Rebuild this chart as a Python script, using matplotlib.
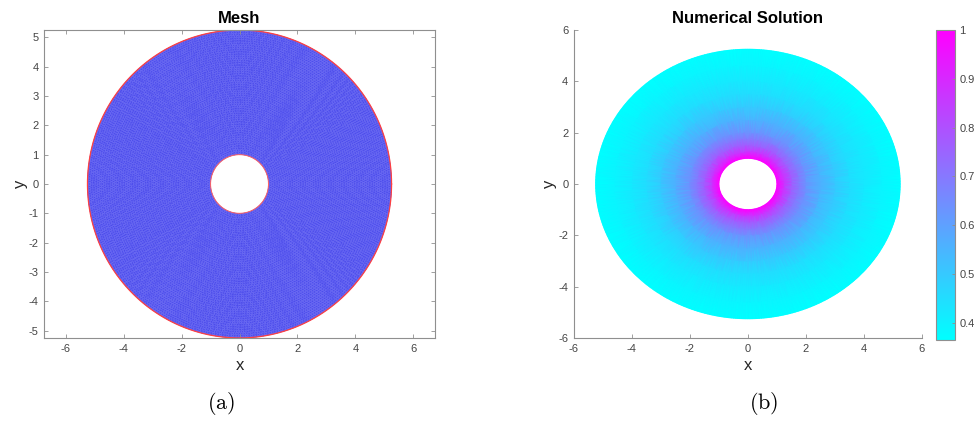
import matplotlib
matplotlib.use("Agg")
import matplotlib.pyplot as plt
import matplotlib.tri as mtri
from matplotlib.collections import PolyCollection
import numpy as np

plt.rcParams['font.family'] = ['Liberation Sans', 'DejaVu Sans']
plt.rcParams['mathtext.fontset'] = 'cm'
plt.rcParams['axes.unicode_minus'] = False

# geometry of the annulus
r_inner = 1.0
r_outer = 5.25

# radial profile of the numerical solution
sol_r = [1.0, 1.1, 1.25, 1.5, 1.75, 2.0, 2.5, 3.0, 3.5, 4.0, 4.6, 5.25]
sol_u = [1.0, 0.95, 0.87, 0.77, 0.70, 0.64, 0.56, 0.50, 0.45, 0.42, 0.39, 0.365]
clim = (0.365, 1.0)
cbar_ticks = [0.4, 0.5, 0.6, 0.7, 0.8, 0.9, 1.0]
cbar_labels = ['0.4', '0.5', '0.6', '0.7', '0.8', '0.9', '1']

mesh_xticks = [-6, -4, -2, 0, 2, 4, 6]
mesh_yticks = [-5, -4, -3, -2, -1, 0, 1, 2, 3, 4, 5]
sol_ticks = [-6, -4, -2, 0, 2, 4, 6]

spine_col = '#8f8f8f'
label_col = '#454545'


def ring_triangulation(radii, spacing):
    xs, ys, rr = [], [], []
    for k, r in enumerate(radii):
        n = max(int(2 * np.pi * r / spacing), 12)
        th = np.linspace(0, 2 * np.pi, n, endpoint=False) + (k % 2) * np.pi / n
        xs.append(r * np.cos(th))
        ys.append(r * np.sin(th))
        rr.append(np.full(n, k))
    x = np.concatenate(xs)
    y = np.concatenate(ys)
    idx = np.concatenate(rr)
    tri = mtri.Triangulation(x, y)
    cx = x[tri.triangles].mean(axis=1)
    cy = y[tri.triangles].mean(axis=1)
    tri.set_mask(np.hypot(cx, cy) < radii[0])
    return tri, idx


def style(ax):
    for s in ax.spines.values():
        s.set_color(spine_col)
        s.set_linewidth(0.8)
    ax.tick_params(direction='in', length=3, width=0.6, color=spine_col,
                   labelsize=8, labelcolor=label_col, pad=4)


fig = plt.figure(figsize=(9.76, 4.28), dpi=100)

# (a) mesh
ax1 = fig.add_axes([0.0451, 0.2103, 0.4006, 0.7196])
n_rings = 58
mesh_r = np.linspace(r_inner, r_outer, n_rings)
mtri_mesh, _ = ring_triangulation(mesh_r, (r_outer - r_inner) / (n_rings - 1) * 1.1)
tris = mtri_mesh.get_masked_triangles()
verts = np.stack([mtri_mesh.x[tris], mtri_mesh.y[tris]], axis=-1)
pc = PolyCollection(verts, facecolor='#6666f5', edgecolor='#3e3eea', linewidth=0.2)
ax1.add_collection(pc)
th = np.linspace(0, 2 * np.pi, 400)
ax1.plot(r_outer * np.cos(th), r_outer * np.sin(th), color='#ff4040', lw=0.9)
ax1.plot(r_inner * np.cos(th), r_inner * np.sin(th), color='#ff6060', lw=0.7)
ax1.set_xlim(-6.75, 6.75)
ax1.set_ylim(-5.25, 5.25)
ax1.set_xticks(mesh_xticks)
ax1.set_yticks(mesh_yticks)
ax1.tick_params(top=True, right=True)
style(ax1)
ax1.set_title('Mesh', fontsize=12, fontweight='bold', pad=5)
ax1.set_xlabel('x', fontsize=12, color='#262626', labelpad=3)
ax1.set_ylabel('y', fontsize=12, color='#262626', labelpad=0)

# (b) numerical solution
ax2 = fig.add_axes([0.588, 0.2103, 0.3566, 0.7196])
sol_tri, ring_idx = ring_triangulation(sol_r, 0.06)
u_nodes = np.array(sol_u)[ring_idx]
tpc = ax2.tripcolor(sol_tri, u_nodes, shading='gouraud', cmap='cool',
                    vmin=clim[0], vmax=clim[1], rasterized=True)
ax2.set_xlim(-6, 6)
ax2.set_ylim(-6, 6)
ax2.set_xticks(sol_ticks)
ax2.set_yticks(sol_ticks)
ax2.spines['top'].set_visible(False)
ax2.spines['right'].set_visible(False)
style(ax2)
ax2.set_title('Numerical Solution', fontsize=12, fontweight='bold', pad=5)
ax2.set_xlabel('x', fontsize=12, color='#262626', labelpad=3)
ax2.set_ylabel('y', fontsize=12, color='#262626', labelpad=1)

cax = fig.add_axes([0.959, 0.2056, 0.0195, 0.7244])
cb = fig.colorbar(tpc, cax=cax, ticks=cbar_ticks)
cb.ax.set_yticklabels(cbar_labels)
cb.outline.set_edgecolor(spine_col)
cb.outline.set_linewidth(0.8)
cb.ax.tick_params(direction='in', length=2, width=0.6, color=spine_col,
                  labelsize=8, labelcolor=label_col, pad=3)

fig.text(0.227, 0.025, r'$\mathrm{(a)}$', fontsize=16, ha='center', va='bottom')
fig.text(0.782, 0.025, r'$\mathrm{(b)}$', fontsize=16, ha='center', va='bottom')

fig.savefig('out.png', dpi=100)
